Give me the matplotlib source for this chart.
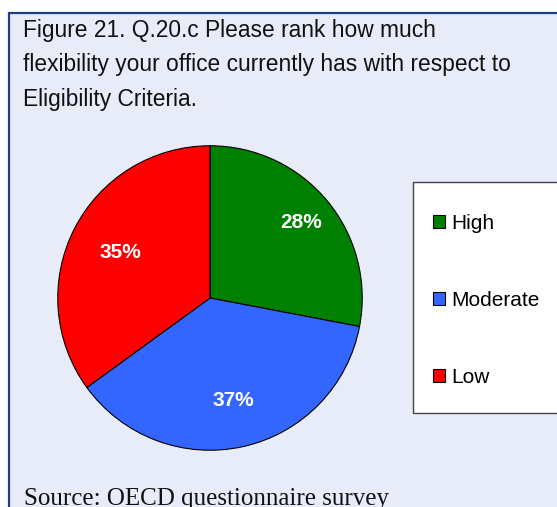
import numpy as np
import matplotlib.pyplot as plt
from matplotlib.patches import Rectangle

# data
labels = ["High", "Moderate", "Low"]
values = [28, 37, 35]
colors = ["#008000", "#3366FF", "#FF0000"]

title_lines = ["Figure 21. Q.20.c Please rank how much",
               "flexibility your office currently has with respect to",
               "Eligibility Criteria."]
source = "Source: OECD questionnaire survey"

# label distance from centre (fraction of radius), per slice
label_dist = [0.78, 0.69, 0.66]

W, H = 557, 507
def fx(x): return x / W
def fy(y): return 1 - y / H

fig = plt.figure(figsize=(W / 100, H / 100), dpi=100)
fig.patch.set_facecolor("white")

# panel background with dark blue frame (runs off right/bottom)
fig.patches.append(Rectangle((fx(9), fy(600)), fx(700), (600 - 13) / H,
                             transform=fig.transFigure, facecolor="#E8ECF9",
                             edgecolor="#1B3F80", linewidth=1.6, zorder=-10))

for i, line in enumerate(title_lines):
    fig.text(fx(23), fy(37 + 34.5 * i), line, va="baseline", ha="left",
             fontsize=16.4, family="Liberation Sans", color="#111111")

fig.text(fx(24), fy(505), source, va="baseline", ha="left", fontsize=18,
         family=["Liberation Serif", "DejaVu Serif"], color="#111111")

# pie
cx, cy, r = 210, 298, 153
ax = fig.add_axes([fx(cx - r), fy(cy + r), 2 * r / W, 2 * r / H])
wedges, _, autotexts = ax.pie(values, colors=colors, startangle=90,
                              counterclock=False, autopct="%.0f%%",
                              wedgeprops=dict(edgecolor="black", linewidth=0.8),
                              textprops=dict(color="white", fontsize=15,
                                             fontweight="bold",
                                             family="Liberation Sans"))
for w, t, d in zip(wedges, autotexts, label_dist):
    a = np.deg2rad((w.theta1 + w.theta2) / 2)
    t.set_position((d * np.cos(a), d * np.sin(a)))
ax.set_xlim(-1.005, 1.005)
ax.set_ylim(-1.005, 1.005)
ax.set_aspect("equal")
ax.axis("off")

# legend box (cut off at right edge)
fig.patches.append(Rectangle((fx(413), fy(413)), fx(200), (413 - 182) / H,
                             transform=fig.transFigure, facecolor="white",
                             edgecolor="#444444", linewidth=1, zorder=-5))
leg = fig.legend(wedges, labels, loc="upper left",
                 bbox_to_anchor=(fx(433), fy(214)), frameon=False,
                 borderpad=0, borderaxespad=0,
                 prop=dict(family="Liberation Sans", size=15),
                 handlelength=0.58, handleheight=0.58, handletextpad=0.28,
                 labelspacing=2.78)

fig.savefig("out.png", dpi=100, facecolor=fig.get_facecolor())
